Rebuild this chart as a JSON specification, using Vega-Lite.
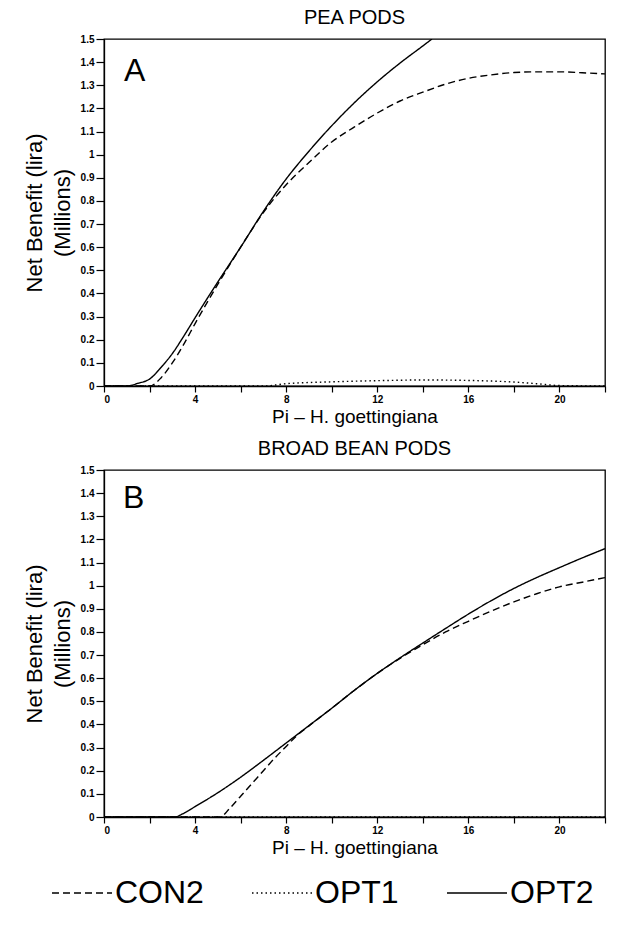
{
  "$schema": "https://vega.github.io/schema/vega-lite/v6.json",
  "padding": {"top": 7, "left": 22, "right": 8, "bottom": 5},
  "config": {
    "font": "Liberation Sans",
    "view": {"stroke": "black", "strokeWidth": 1.3},
    "axis": {
      "domainColor": "black", "domainWidth": 1.3, "tickColor": "black", "tickWidth": 1.2,
      "labelColor": "black", "titleColor": "black", "grid": false, "labelOverlap": false,
      "labelFont": "Liberation Sans", "labelFontWeight": "bold", "labelFontSize": 10,
      "titleFont": "Liberation Sans", "titleFontWeight": "normal"
    },
    "title": {"fontSize": 20, "fontWeight": "normal", "offset": 6, "color": "black", "font": "Liberation Sans"},
    "legend": {"labelFont": "Liberation Sans"}
  },
  "datasets": {
    "curves": [
      {"p": "A", "s": "OPT1", "x": 0, "v": 0},
      {"p": "A", "s": "OPT1", "x": 7, "v": 0},
      {"p": "A", "s": "OPT1", "x": 8, "v": 0.01},
      {"p": "A", "s": "OPT1", "x": 10, "v": 0.018},
      {"p": "A", "s": "OPT1", "x": 12, "v": 0.023},
      {"p": "A", "s": "OPT1", "x": 14, "v": 0.026},
      {"p": "A", "s": "OPT1", "x": 16, "v": 0.024},
      {"p": "A", "s": "OPT1", "x": 18, "v": 0.017},
      {"p": "A", "s": "OPT1", "x": 19, "v": 0.01},
      {"p": "A", "s": "OPT1", "x": 20, "v": 0.002},
      {"p": "A", "s": "OPT1", "x": 22, "v": 0},

      {"p": "A", "s": "CON2", "x": 0, "v": 0},
      {"p": "A", "s": "CON2", "x": 2, "v": 0},
      {"p": "A", "s": "CON2", "x": 2.5, "v": 0.035},
      {"p": "A", "s": "CON2", "x": 3, "v": 0.1},
      {"p": "A", "s": "CON2", "x": 3.5, "v": 0.18},
      {"p": "A", "s": "CON2", "x": 4, "v": 0.27},
      {"p": "A", "s": "CON2", "x": 5, "v": 0.44},
      {"p": "A", "s": "CON2", "x": 6, "v": 0.6},
      {"p": "A", "s": "CON2", "x": 7, "v": 0.75},
      {"p": "A", "s": "CON2", "x": 8, "v": 0.87},
      {"p": "A", "s": "CON2", "x": 9, "v": 0.966},
      {"p": "A", "s": "CON2", "x": 10, "v": 1.055},
      {"p": "A", "s": "CON2", "x": 11, "v": 1.12},
      {"p": "A", "s": "CON2", "x": 12, "v": 1.18},
      {"p": "A", "s": "CON2", "x": 13, "v": 1.232},
      {"p": "A", "s": "CON2", "x": 14, "v": 1.27},
      {"p": "A", "s": "CON2", "x": 15, "v": 1.305},
      {"p": "A", "s": "CON2", "x": 16, "v": 1.33},
      {"p": "A", "s": "CON2", "x": 17, "v": 1.345},
      {"p": "A", "s": "CON2", "x": 18, "v": 1.355},
      {"p": "A", "s": "CON2", "x": 19, "v": 1.358},
      {"p": "A", "s": "CON2", "x": 20, "v": 1.358},
      {"p": "A", "s": "CON2", "x": 21, "v": 1.354},
      {"p": "A", "s": "CON2", "x": 22, "v": 1.349},

      {"p": "A", "s": "OPT2", "x": 0, "v": 0},
      {"p": "A", "s": "OPT2", "x": 1, "v": 0},
      {"p": "A", "s": "OPT2", "x": 1.5, "v": 0.012},
      {"p": "A", "s": "OPT2", "x": 2, "v": 0.03},
      {"p": "A", "s": "OPT2", "x": 2.5, "v": 0.08},
      {"p": "A", "s": "OPT2", "x": 3, "v": 0.14},
      {"p": "A", "s": "OPT2", "x": 3.5, "v": 0.215},
      {"p": "A", "s": "OPT2", "x": 4, "v": 0.295},
      {"p": "A", "s": "OPT2", "x": 5, "v": 0.45},
      {"p": "A", "s": "OPT2", "x": 6, "v": 0.6},
      {"p": "A", "s": "OPT2", "x": 7, "v": 0.755},
      {"p": "A", "s": "OPT2", "x": 8, "v": 0.895},
      {"p": "A", "s": "OPT2", "x": 9, "v": 1.015},
      {"p": "A", "s": "OPT2", "x": 10, "v": 1.125},
      {"p": "A", "s": "OPT2", "x": 11, "v": 1.225},
      {"p": "A", "s": "OPT2", "x": 12, "v": 1.315},
      {"p": "A", "s": "OPT2", "x": 13, "v": 1.396},
      {"p": "A", "s": "OPT2", "x": 14, "v": 1.47},
      {"p": "A", "s": "OPT2", "x": 14.4, "v": 1.5},

      {"p": "B", "s": "OPT1", "x": 0, "v": 0},
      {"p": "B", "s": "OPT1", "x": 22, "v": 0},

      {"p": "B", "s": "CON2", "x": 0, "v": 0},
      {"p": "B", "s": "CON2", "x": 5.1, "v": 0},
      {"p": "B", "s": "CON2", "x": 5.5, "v": 0.035},
      {"p": "B", "s": "CON2", "x": 6, "v": 0.09},
      {"p": "B", "s": "CON2", "x": 6.5, "v": 0.145},
      {"p": "B", "s": "CON2", "x": 7, "v": 0.2},
      {"p": "B", "s": "CON2", "x": 7.5, "v": 0.255},
      {"p": "B", "s": "CON2", "x": 8, "v": 0.305},
      {"p": "B", "s": "CON2", "x": 8.5, "v": 0.355},
      {"p": "B", "s": "CON2", "x": 9, "v": 0.394},
      {"p": "B", "s": "CON2", "x": 10, "v": 0.47},
      {"p": "B", "s": "CON2", "x": 11, "v": 0.548},
      {"p": "B", "s": "CON2", "x": 12, "v": 0.621},
      {"p": "B", "s": "CON2", "x": 13, "v": 0.686},
      {"p": "B", "s": "CON2", "x": 14, "v": 0.745},
      {"p": "B", "s": "CON2", "x": 15, "v": 0.8},
      {"p": "B", "s": "CON2", "x": 16, "v": 0.846},
      {"p": "B", "s": "CON2", "x": 17, "v": 0.89},
      {"p": "B", "s": "CON2", "x": 18, "v": 0.93},
      {"p": "B", "s": "CON2", "x": 19, "v": 0.965},
      {"p": "B", "s": "CON2", "x": 20, "v": 0.995},
      {"p": "B", "s": "CON2", "x": 21, "v": 1.015},
      {"p": "B", "s": "CON2", "x": 22, "v": 1.035},

      {"p": "B", "s": "OPT2", "x": 0, "v": 0},
      {"p": "B", "s": "OPT2", "x": 3.1, "v": 0},
      {"p": "B", "s": "OPT2", "x": 3.5, "v": 0.016},
      {"p": "B", "s": "OPT2", "x": 4, "v": 0.045},
      {"p": "B", "s": "OPT2", "x": 5, "v": 0.105},
      {"p": "B", "s": "OPT2", "x": 6, "v": 0.172},
      {"p": "B", "s": "OPT2", "x": 7, "v": 0.245},
      {"p": "B", "s": "OPT2", "x": 8, "v": 0.32},
      {"p": "B", "s": "OPT2", "x": 9, "v": 0.395},
      {"p": "B", "s": "OPT2", "x": 10, "v": 0.47},
      {"p": "B", "s": "OPT2", "x": 11, "v": 0.548},
      {"p": "B", "s": "OPT2", "x": 12, "v": 0.621},
      {"p": "B", "s": "OPT2", "x": 13, "v": 0.688},
      {"p": "B", "s": "OPT2", "x": 14, "v": 0.752},
      {"p": "B", "s": "OPT2", "x": 15, "v": 0.815},
      {"p": "B", "s": "OPT2", "x": 16, "v": 0.877},
      {"p": "B", "s": "OPT2", "x": 17, "v": 0.935},
      {"p": "B", "s": "OPT2", "x": 18, "v": 0.988},
      {"p": "B", "s": "OPT2", "x": 19, "v": 1.035},
      {"p": "B", "s": "OPT2", "x": 20, "v": 1.078},
      {"p": "B", "s": "OPT2", "x": 21, "v": 1.12},
      {"p": "B", "s": "OPT2", "x": 22, "v": 1.16}
    ]
  },
  "resolve": {"scale": {"strokeDash": "shared"}, "legend": {"strokeDash": "shared"}},
  "spacing": 11,
  "vconcat": [
    {
      "title": "PEA PODS",
      "width": 501,
      "height": 347,
      "layer": [
        {
          "data": {"name": "curves"},
          "transform": [{"filter": "datum.p === 'A'"}],
          "mark": {"type": "line", "color": "black", "strokeWidth": 1.4, "clip": true, "interpolate": "monotone"},
          "encoding": {
            "x": {"field": "x", "type": "quantitative", "scale": {"domain": [0, 22], "nice": false},
              "axis": {"title": "Pi – H. goettingiana", "titleFontSize": 19, "values": [0,2,4,6,8,10,12,14,16,18,20,22], "tickCount": 30,
                "labelExpr": "datum.value % 4 === 0 ? datum.label : ''", "tickSize": 6, "labelPadding": 2, "titlePadding": 3, "labelOverlap": false}},
            "y": {"field": "v", "type": "quantitative", "scale": {"domain": [0, 1.5], "nice": false},
              "axis": {"title": ["Net Benefit (lira)", "(Millions)"], "titleFontSize": 22, "titleLineHeight": 28,
                "values": [0,0.1,0.2,0.3,0.4,0.5,0.6,0.7,0.8,0.9,1,1.1,1.2,1.3,1.4,1.5], "tickCount": 30, "format": "~g",
                "tickSize": 8, "labelPadding": 2, "titlePadding": 6, "labelOverlap": false}},
            "strokeDash": {"field": "s", "type": "nominal",
              "scale": {"domain": ["CON2", "OPT1", "OPT2"], "range": [[7, 4], [1.5, 3], [1, 0]]},
              "legend": {"title": null, "orient": "none", "legendX": -53, "legendY": 823, "direction": "horizontal", "symbolType": "stroke",
                "symbolSize": 3600, "symbolStrokeWidth": 1.4, "symbolStrokeColor": "black",
                "labelFontSize": 32, "labelColor": "black", "labelOffset": 2, "columnPadding": 45}},
            "order": {"field": "x", "type": "quantitative"}
          }
        },
        {
          "data": {"values": [{"label": "A"}]},
          "mark": {"type": "text", "fontSize": 32, "align": "center", "baseline": "middle", "color": "black"},
          "encoding": {
            "x": {"datum": 1.35, "type": "quantitative"},
            "y": {"datum": 1.36, "type": "quantitative"},
            "text": {"field": "label"}
          }
        }
      ]
    },
    {
      "title": "BROAD BEAN PODS",
      "width": 501,
      "height": 347,
      "layer": [
        {
          "data": {"name": "curves"},
          "transform": [{"filter": "datum.p === 'B'"}],
          "mark": {"type": "line", "color": "black", "strokeWidth": 1.4, "clip": true, "interpolate": "monotone"},
          "encoding": {
            "x": {"field": "x", "type": "quantitative", "scale": {"domain": [0, 22], "nice": false},
              "axis": {"title": "Pi – H. goettingiana", "titleFontSize": 19, "values": [0,2,4,6,8,10,12,14,16,18,20,22], "tickCount": 30,
                "labelExpr": "datum.value % 4 === 0 ? datum.label : ''", "tickSize": 6, "labelPadding": 2, "titlePadding": 3, "labelOverlap": false}},
            "y": {"field": "v", "type": "quantitative", "scale": {"domain": [0, 1.5], "nice": false},
              "axis": {"title": ["Net Benefit (lira)", "(Millions)"], "titleFontSize": 22, "titleLineHeight": 28,
                "values": [0,0.1,0.2,0.3,0.4,0.5,0.6,0.7,0.8,0.9,1,1.1,1.2,1.3,1.4,1.5], "tickCount": 30, "format": "~g",
                "tickSize": 8, "labelPadding": 2, "titlePadding": 6, "labelOverlap": false}},
            "strokeDash": {"field": "s", "type": "nominal",
              "scale": {"domain": ["CON2", "OPT1", "OPT2"], "range": [[7, 4], [1.5, 3], [1, 0]]},
              "legend": {"title": null, "orient": "none", "legendX": -53, "legendY": 823, "direction": "horizontal", "symbolType": "stroke",
                "symbolSize": 3600, "symbolStrokeWidth": 1.4, "symbolStrokeColor": "black",
                "labelFontSize": 32, "labelColor": "black", "labelOffset": 2, "columnPadding": 45}},
            "order": {"field": "x", "type": "quantitative"}
          }
        },
        {
          "data": {"values": [{"label": "B"}]},
          "mark": {"type": "text", "fontSize": 32, "align": "center", "baseline": "middle", "color": "black"},
          "encoding": {
            "x": {"datum": 1.3, "type": "quantitative"},
            "y": {"datum": 1.38, "type": "quantitative"},
            "text": {"field": "label"}
          }
        }
      ]
    }
  ]
}
